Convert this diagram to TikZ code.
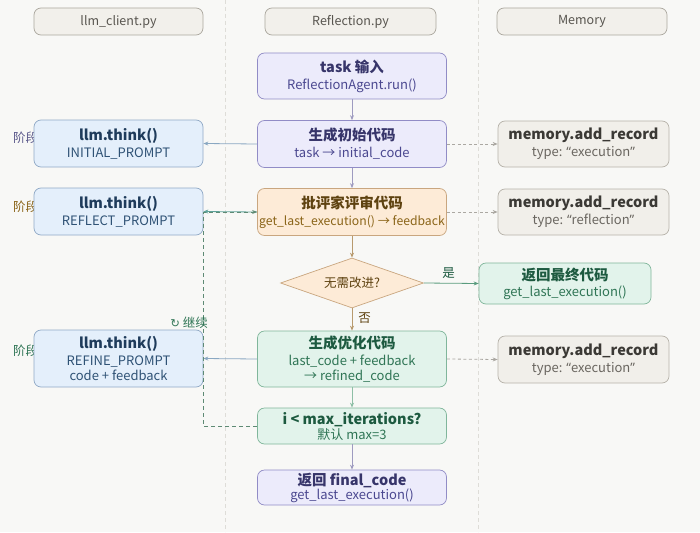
\documentclass[tikz,border=0pt]{standalone}
\usepackage{fontspec}
\setmainfont{Noto Sans CJK SC}
\newfontfamily\symf{DejaVu Sans}
\newfontfamily\latf{Noto Sans}
\usetikzlibrary{shapes.geometric,arrows.meta}
\definecolor{bg}{HTML}{F8F8F6}
\definecolor{sepc}{HTML}{DEDDD8}
\definecolor{hdrfill}{HTML}{F2F0EB}
\definecolor{hdrdraw}{HTML}{ABA79E}
\definecolor{hdrtext}{HTML}{58554F}
\definecolor{lavfill}{HTML}{ECEBFB}
\definecolor{lavdraw}{HTML}{918CC6}
\definecolor{lavtext}{HTML}{37356A}
\definecolor{lavsub}{HTML}{4B4890}
\definecolor{blufill}{HTML}{E4EFFB}
\definecolor{bludraw}{HTML}{90A9C6}
\definecolor{blutext}{HTML}{1E3B5B}
\definecolor{blusub}{HTML}{2F5275}
\definecolor{pchfill}{HTML}{FDEBD7}
\definecolor{pchdraw}{HTML}{C9A67F}
\definecolor{pchtext}{HTML}{5E4210}
\definecolor{pchsub}{HTML}{8A6418}
\definecolor{mntfill}{HTML}{E2F3EB}
\definecolor{mntdraw}{HTML}{80B69B}
\definecolor{mnttext}{HTML}{1D5A40}
\definecolor{mntsub}{HTML}{2F7555}
\definecolor{memfill}{HTML}{F1EFEA}
\definecolor{memdraw}{HTML}{B6B2A9}
\definecolor{memtext}{HTML}{3B3935}
\definecolor{memsub}{HTML}{6A6660}
\definecolor{arlav}{HTML}{9E9BC0}
\definecolor{arpch}{HTML}{B89A6E}
\definecolor{armnt}{HTML}{8EBFA6}
\definecolor{arblu}{HTML}{8AA8C2}
\definecolor{arteal}{HTML}{5FA39A}
\definecolor{argry}{HTML}{ABA8A2}
\definecolor{argrn}{HTML}{5A9C7E}
\definecolor{arloop}{HTML}{5E8A74}
\tikzset{
  basebox/.style={rounded corners=7pt, line width=0.7pt, align=center, inner sep=1pt, minimum width=#1, font=\fontsize{13}{17}\selectfont},
  basebox/.default=189pt,
  hdr/.style={basebox=170pt, draw=hdrdraw, fill=hdrfill, text=hdrtext, minimum height=27pt, font=\fontsize{12.5}{14}\selectfont},
  lav/.style={basebox, draw=lavdraw, fill=lavfill, text=lavtext},
  blu/.style={basebox=169pt, draw=bludraw, fill=blufill, text=blutext},
  pch/.style={basebox, draw=pchdraw, fill=pchfill, text=pchtext},
  mnt/.style={basebox, draw=mntdraw, fill=mntfill, text=mnttext},
  mem/.style={basebox=171pt, draw=memdraw, fill=memfill, text=memtext},
  stage/.style={anchor=west, font=\fontsize{12.5}{14}\selectfont, inner sep=0},
  arr/.style={-{Stealth[length=5pt,width=4pt]}, line width=0.8pt},
  memarr/.style={arr, draw=argry, dash pattern=on 3pt off 2.5pt},
  sep/.style={draw=sepc, line width=0.8pt, dash pattern=on 4pt off 3pt},
  lbl/.style={font=\fontsize{12.5}{14}\selectfont, inner sep=0}
}
\newcommand{\ttl}[1]{{\fontsize{14.5}{17}\selectfont\bfseries #1}}
\newcommand{\sbt}[2]{{\color{#1}#2}}
\newcommand{\mylq}{{\latf “}}
\newcommand{\myrq}{{\latf ”}}
\begin{document}
\begin{tikzpicture}[x=1pt,y=-1pt]
\fill[bg] (0,0) rectangle (700,532);
\useasboundingbox (0,0) rectangle (700,532);
% column separators
\draw[sep] (225,0) -- (225,532);
\draw[sep] (478,0) -- (478,532);
% headers
\node[hdr, minimum width=169pt] (h1) at (118.5,21.5) {llm\_client.py};
\node[hdr, minimum width=171pt] (h2) at (350.5,21.5) {Reflection.py};
\node[hdr] (h3) at (582,21.5) {Memory};
% stage labels (partly covered by boxes)
\node[stage, text=lavsub!70!gray] (s1) at (13,138) {阶段1};
\node[stage, text=pchsub] (s2) at (13,207) {阶段2};
\node[stage, text=mntsub] (s3) at (13,351) {阶段3};
% main column
\node[lav, minimum height=46pt] (task) at (352,76) {\ttl{task 输入}\\\sbt{lavsub}{ReflectionAgent.run()}};
\node[lav, minimum height=47pt] (init) at (352,144) {\ttl{生成初始代码}\\\sbt{lavsub}{task → initial\_code}};
\node[pch, minimum height=47pt, inner xsep=0pt] (crit) at (352,212) {\ttl{批评家评审代码}\\\sbt{pchsub}{\fontsize{12.2}{17}\selectfont get\_last\_execution() → feedback}};
\node[diamond, aspect=2.86, minimum width=143pt, minimum height=50pt, inner sep=0, draw=pchdraw, fill=pchfill, line width=0.7pt, text=pchtext, font=\fontsize{12.5}{14}\selectfont] (dec) at (352,283) {无需改进?};
\node[mnt, basebox=172pt, minimum height=41pt] (ret) at (565,283.5) {\ttl{返回最终代码}\\[-1pt]\sbt{mntsub}{get\_last\_execution()}};
\node[mnt, minimum height=56pt] (refine) at (352,359) {\ttl{生成优化代码}\\\sbt{mntsub}{last\_code + feedback}\\[-2.5pt]\sbt{mntsub}{→ refined\_code}};
\node[mnt, minimum height=36pt] (imax) at (352,426) {\ttl{i < max\_iterations?}\\[-2pt]\sbt{mntsub}{默认 max=3}};
\node[lav, minimum height=35pt] (final) at (352,487.5) {\ttl{返回 final\_code}\\[-3pt]\sbt{lavsub}{get\_last\_execution()}};
% llm column
\node[blu, minimum height=47pt] (l1) at (118.5,143.5) {\ttl{llm.think()}\\\sbt{blusub}{INITIAL\_PROMPT}};
\node[blu, minimum height=47pt] (l2) at (118.5,211.5) {\ttl{llm.think()}\\\sbt{blusub}{REFLECT\_PROMPT}};
\node[blu, minimum height=57pt] (l3) at (118.5,358.5) {\ttl{llm.think()}\\\sbt{blusub}{REFINE\_PROMPT}\\[-2.5pt]\sbt{blusub}{code + feedback}};
% memory column
\node[mem, minimum height=46pt] (m1) at (583.5,144) {\ttl{memory.add\_record}\\\sbt{memsub}{type: \mylq execution\myrq}};
\node[mem, minimum height=46pt] (m2) at (583.5,212) {\ttl{memory.add\_record}\\\sbt{memsub}{type: \mylq reflection\myrq}};
\node[mem, minimum height=47pt] (m3) at (583.5,359.5) {\ttl{memory.add\_record}\\\sbt{memsub}{type: \mylq execution\myrq}};
% main flow
\draw[arr, draw=arlav] (task) -- (init);
\draw[arr, draw=arlav] (init) -- (crit);
\draw[arr, draw=arpch] (crit) -- (dec);
\draw[arr, draw=arpch] (dec) -- (refine) node[lbl, pos=0.45, right=6pt, text=pchtext] {否};
\draw[arr, draw=argrn] (dec.east) -- (ret.west) node[lbl, pos=0.45, above=4pt, text=mnttext] {是};
\draw[arr, draw=armnt] (refine) -- (imax);
\draw[arr, draw=arlav] (imax) -- (final);
% llm calls
\draw[arr, draw=arblu] (init.west) -- (l1.east);
\draw[arr, draw=arteal] (crit.west) -- (l2.east);
\draw[arr, draw=arblu] (refine.west) -- (l3.east);
% memory records
\draw[memarr] (init.east) -- (m1.west);
\draw[memarr] (crit.east) -- (m2.west);
\draw[memarr] (refine.east) -- (m3.west);
% loop
\coordinate (lp) at (203.5,426);
\draw[arr, draw=arloop, dash pattern=on 4pt off 3pt] (imax.west) -- (lp) |- (crit.west);
\node[lbl, anchor=east, text=mntsub] (cont) at (208,323) {{\symf\fontsize{11.5}{12}\selectfont ↻} 继续};
\end{tikzpicture}
\end{document}
